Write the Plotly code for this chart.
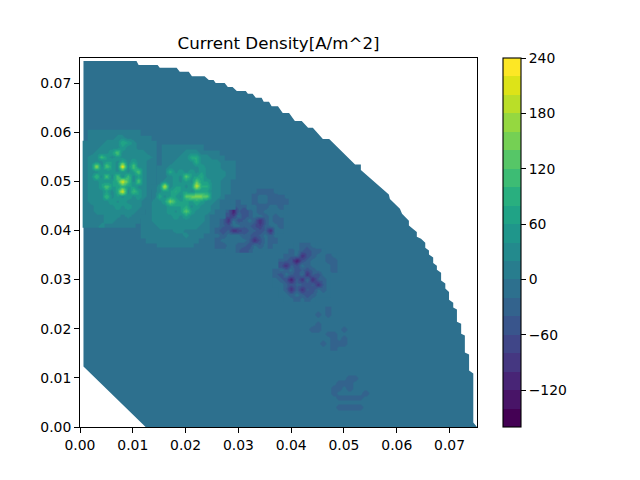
import numpy as np
import plotly.graph_objects as go

TITLE = "Current Density[A/m^2]"
BAND_COLORS = ["#440154", "#481467", "#482576", "#453781", "#404688", "#39558c", "#33638d",
               "#2d708e", "#287d8e", "#238a8d", "#1f968b", "#20a386", "#29af7f", "#3dbc74",
               "#56c667", "#75d054", "#95d840", "#bade28", "#dde318", "#fde725"]
LEVEL_MIN, LEVEL_MAX, LEVEL_STEP = -160, 240, 20
CBAR_TICKS = [-120, -60, 0, 60, 120, 180, 240]

# Outline of the meshed sector (stepped boundary)
outline_x = [.00066, .01243, .0752, .0745, .0745, .0737, .0737, .0729, .0729, .0722, .0722, .0714, .0714,
             .0707, .0707, .0699, .0699, .0692, .0692, .0684, .0684, .0676, .0676, .0669, .0669, .0661,
             .0661, .0654, .0654, .0646, .0638, .0638, .0631, .0623, .0623, .0610, .0606, .0587, .0585,
             .0568, .0559, .0532, .0532, .0521, .0472, .0460, .0441, .0432, .0420, .0407, .0396, .0384,
             .0375, .0363, .0358, .0348, .0344, .0333, .0327, .0318, .0314, .0297, .0289, .0280, .0274,
             .0257, .0253, .0244, .0236, .0212, .0206, .0189, .0183, .0151, .0147, .0111, .0107, .00066]
outline_y = [.0123, 0, 0, .0009, .01087, .01148, .01474, .01514, .0186, .0190, .0210, .0214, .0239,
             .0243, .0253, .0259, .0275, .0282, .0292, .0298, .0314, .0320, .0328, .0334, .0345, .0351,
             .0359, .0365, .0375, .0383, .0387, .0397, .0403, .0410, .0420, .0434, .0444, .0464, .0473,
             .0489, .0497, .0523, .0534, .0534, .0586, .0586, .0609, .0609, .0623, .0623, .0639, .0639,
             .0653, .0653, .0662, .0662, .0670, .0670, .0678, .0678, .0684, .0684, .0692, .0692, .0700,
             .0700, .0706, .0706, .0714, .0714, .0723, .0723, .0731, .0731, .0737, .0737, .0745, .0745]

# Value codes used in the patch rows below
code_values = {"a": 10, "b": 30, "c": 60, "d": 85, "e": 110, "f": 130, "g": 150, "h": 175, "i": 190,
               "j": 205, "k": 225, "l": 238, "z": -10, "y": -35, "x": -55, "w": -80, "v": -100, "u": -120}

patch1_x0, patch1_ytop = 0.001, 0.060
patch1_rows = [
    ".aaaaaaaaaa...", ".aaaaabbaaaaa.", "aaaabbbdcbaaaa", "aaabbbbcbbaaaa", "aabbbcfbbbbbaa",
    "abbecbcbbbbbba", "abbbccbdbcbbaa", "abhbfcblbfbbaa", "abbcbcbcbcfbaa", "abebfbfbebcbaa",
    "abbcbcdkebfbaa", "abbcfccdccbbaa", "abbbcbdkbecba.", "abbbebcbcbcba.", "abbbbcbcbbbaa.",
    "aabbbbcbcbbaa.", "aabbbbbbbbaa..", "aaaabbbabaaa..", "aaaabbaaaaa...", "aaabaaaaaa....",
]
patch2_x0, patch2_ytop = 0.012, 0.057
patch2_rows = [
    "....aaaaaaaa......", "....aaaabbbaaaa...", "....aaabbddbbaaa..", "....aabbbbdbbbbaaa",
    "...aabbbbbbcbbbaaa", "...aadbcbcbcbbbbaa", "...aabcbfccdbbbbaa", "...abbcbcbfccbbaa.",
    "..abjbccbcjddbbaa.", "..abccdccbcccbbaa.", "..adbccbfgggfbba..", ".abbcgdcccdcbba...",
    ".abbbcccdbcbbaa...", ".abbbcbcfcbbba....", "aabbbbcbcbbba.....", "aabbbbbbbbbba.....",
    "aaabbbbbbbbaa.....", "aaaaaabbaaaaa.....", "aaaaaaaabaaa......", ".aaaaaaaaaa.......",
    "...aaaaaaa........",
]
patch3_x0, patch3_ytop = 0.026, 0.048
patch3_rows = [
    ".......zyyyz..", ".......yzzyyyz", "...zy..yzzyyyy", "....yy.zyyzzy.", "..yuyxyzyzzzz.",
    "..xwzxyzzyzyz.", ".yvzxyzyvyzyy.", "zyxzzyyxwyzzy.", "yxyvwxyyxyvzz.", "zyzzzyyxyzyz..",
    "yzzzzzyvxzyy..", "yyzzyyxzyzy...", "..zzyxyzz.....",
]
patch4_x0, patch4_ytop = 0.036, 0.037
patch4_rows = [
    ".....zyyz.....", "....yzyxyyz...", "...yyzvxyzzyz.", "..yyxuxyzzzyyz", "..xvyxzyzzzzyz",
    ".yzyzxyxyzzzyz", ".yxzyxzvyxzz..", ".zyxuyvzvyyz..", ".zzyxyyxyvyz..", "..zyvyvyxzyz..",
    "..zzyzyxyzzz..", "...zzyzyz.....",
]
patch5_x0, patch5_ytop = 0.043, 0.024
patch5_rows = [
    "zzzzyzzzz", "zzyzyzzzz", "zzzzzzzzz", "zzyzzzzzz", "zyyzzzzyz",
    "zzzzyyzzz", "zzzzzyzyz", "zzzyzyyyz", "zzzzzyzzz",
]
patch6_x0, patch6_ytop = 0.046, 0.011
patch6_rows = [
    "zzzzzzzzzz", "zzzzzyyzzz", "zzzyyyzzzz", "zzyyzyzzzz", "zzyzzzzzyz",
    "zzzyyyyyzz", "zzzzzzzzzz", "zzzyyyyyzz", "zzzzzzzzzz",
]
patches = [
    (patch1_x0, patch1_ytop, patch1_rows), (patch2_x0, patch2_ytop, patch2_rows),
    (patch3_x0, patch3_ytop, patch3_rows), (patch4_x0, patch4_ytop, patch4_rows),
    (patch5_x0, patch5_ytop, patch5_rows), (patch6_x0, patch6_ytop, patch6_rows),
]
CELL = 0.001
X_RANGE = [0, 0.0752]
Y_RANGE = [0, 0.0751]
INK = "black"
FONT = "DejaVu Sans"
TICK_PX = 13.9
TITLE_PX = 16.67
# The page body has an 8 px margin, so the figure is drawn 8 px smaller with margins shifted
PAGE_OFFSET = 8
FIG_W, FIG_H = 640 - PAGE_OFFSET, 480 - PAGE_OFFSET

n = len(BAND_COLORS)
colorscale = []
for i, c in enumerate(BAND_COLORS):
    colorscale += [[i / n, c], [(i + 1) / n, c]]


def decode(rows):
    width = max(len(r) for r in rows)
    return [[code_values.get(ch, None) for ch in r.ljust(width, ".")] for r in rows[::-1]]


fig = go.Figure()
fig.add_trace(go.Scatter(x=outline_x, y=outline_y, mode="lines", fill="toself",
                         fillcolor=BAND_COLORS[7], line=dict(width=0, color=BAND_COLORS[7]),
                         hoverinfo="skip", showlegend=False))
for x0, ytop, rows in patches:
    fig.add_trace(go.Heatmap(z=decode(rows), x0=x0, dx=CELL, y0=ytop - CELL * (len(rows) - 1), dy=CELL,
                             coloraxis="coloraxis", zsmooth="best", hoverinfo="skip",
                             xaxis="x2", yaxis="y2"))

axis_common = dict(showgrid=False, zeroline=False, showline=True, linecolor=INK, linewidth=1.1, mirror=True,
                   ticks="outside", ticklen=4.9, tickwidth=1.1, tickcolor=INK, dtick=0.01, tick0=0,
                   tickformat=".2f", tickfont=dict(family=FONT, size=TICK_PX, color=INK))
fig.update_layout(
    width=FIG_W, height=FIG_H, autosize=False,
    margin=dict(l=80 - PAGE_OFFSET, r=163, t=58 - PAGE_OFFSET, b=53, pad=0),
    paper_bgcolor="white", plot_bgcolor="white",
    font=dict(family=FONT, size=TICK_PX, color=INK),
    title=dict(text=TITLE, font=dict(family=FONT, size=TITLE_PX, color=INK),
               x=(278.5 - PAGE_OFFSET) / FIG_W, xanchor="center", xref="container",
               y=1 - (43 - PAGE_OFFSET) / FIG_H, yanchor="middle", yref="container"),
    xaxis=dict(range=X_RANGE, **axis_common),
    yaxis=dict(range=Y_RANGE, **axis_common),
    xaxis2=dict(range=X_RANGE, overlaying="x", visible=False),
    yaxis2=dict(range=Y_RANGE, overlaying="y", visible=False),
    showlegend=False,
    coloraxis=dict(cmin=LEVEL_MIN, cmax=LEVEL_MAX, colorscale=colorscale,
                   colorbar=dict(x=(503 - PAGE_OFFSET) / FIG_W, xref="container", xanchor="left", thickness=18,
                                 thicknessmode="pixels", len=1, lenmode="fraction", y=0.5, yanchor="middle",
                                 ypad=0, xpad=0, outlinecolor=INK, outlinewidth=1.1, ticks="outside",
                                 ticklen=4.9, tickwidth=1.1, tickcolor=INK, tickvals=CBAR_TICKS,
                                 tickfont=dict(family=FONT, size=TICK_PX, color=INK))),
)
fig.write_html("out.html")
